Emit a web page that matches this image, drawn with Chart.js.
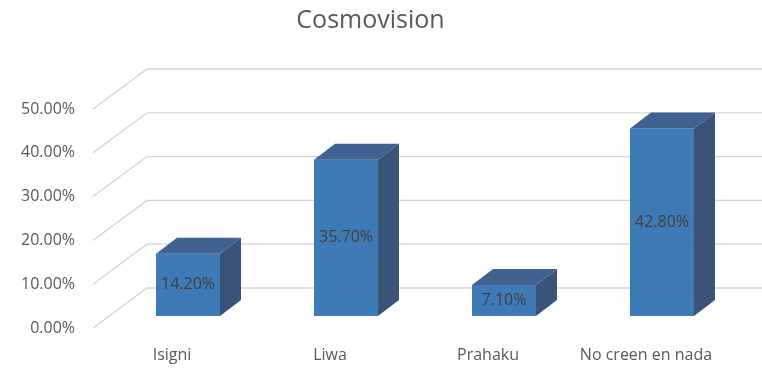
<!DOCTYPE html>
<html>
<head>
<meta charset="utf-8">
<script src="https://cdn.jsdelivr.net/npm/chart.js@4/dist/chart.umd.min.js"></script>
<style>
html,body{margin:0;padding:0;background:#fff;}
canvas{display:block;}
</style>
</head>
<body>
<canvas id="c" width="762" height="375"></canvas>
<script>
const categories = ['Isigni', 'Liwa', 'Prahaku', 'No creen en nada'];
const values = [14.2, 35.7, 7.1, 42.8];
const yTicks = [0, 10, 20, 30, 40, 50];
const chartTitle = 'Cosmovision';

const FONT = '"Open Sans", sans-serif';
const FRONT = '#3d7ab6';
const TOP = '#3f6290';
const SIDE = '#3b5279';
const GRID = '#d3d3d3';

const depth3d = {
  id: 'depth3d',
  beforeDatasetsDraw(chart) {
    const ctx = chart.ctx, y = chart.scales.y, area = chart.chartArea;
    ctx.save();
    ctx.strokeStyle = GRID;
    ctx.lineWidth = 1.3;
    yTicks.forEach(v => {
      const py = y.getPixelForValue(v);
      ctx.beginPath();
      ctx.moveTo(area.left - 16, py + 12);
      ctx.lineTo(area.left + 38, py - 28);
      ctx.lineTo(chart.width, py - 28);
      ctx.stroke();
    });
    ctx.restore();
  },
  afterDatasetsDraw(chart) {
    const ctx = chart.ctx;
    const meta = chart.getDatasetMeta(0);
    const dx = 21, dy = -16;
    ctx.save();
    meta.data.forEach((bar, i) => {
      const p = bar.getProps(['x', 'y', 'base', 'width'], true);
      const l = p.x - p.width / 2, r = p.x + p.width / 2, t = p.y, b = p.base;
      ctx.fillStyle = TOP;
      ctx.beginPath();
      ctx.moveTo(l, t); ctx.lineTo(r, t); ctx.lineTo(r + dx, t + dy); ctx.lineTo(l + dx, t + dy);
      ctx.closePath(); ctx.fill();
      ctx.fillStyle = SIDE;
      ctx.beginPath();
      ctx.moveTo(r, t); ctx.lineTo(r + dx, t + dy); ctx.lineTo(r + dx, b + dy); ctx.lineTo(r, b);
      ctx.closePath(); ctx.fill();
      ctx.fillStyle = '#404040';
      ctx.font = '16px ' + FONT;
      ctx.textAlign = 'center';
      ctx.textBaseline = 'middle';
      ctx.fillText(values[i].toFixed(2) + '%', p.x, (t + b) / 2);
    });
    ctx.restore();
  }
};

new Chart(document.getElementById('c'), {
  type: 'bar',
  data: {
    labels: categories,
    datasets: [{
      data: values,
      backgroundColor: FRONT,
      borderWidth: 0,
      barPercentage: 1,
      categoryPercentage: 0.405
    }]
  },
  options: {
    responsive: false,
    animation: false,
    layout: { padding: { left: 0, right: 21, top: 0, bottom: 0 } },
    plugins: {
      legend: { display: false },
      tooltip: { enabled: false },
      title: {
        display: true,
        text: chartTitle,
        color: '#595959',
        font: { family: FONT, size: 25, weight: 'normal' },
        padding: { top: 6, bottom: 61 }
      }
    },
    scales: {
      x: {
        grid: { display: false },
        border: { display: false },
        ticks: {
          color: '#595959',
          font: { family: FONT, size: 16 },
          labelOffset: -16,
          padding: 22,
          maxRotation: 0,
          autoSkip: false
        },
        afterFit(s) { s.height = 59; }
      },
      y: {
        min: 0,
        max: 50,
        grid: { display: false },
        border: { display: false },
        afterBuildTicks(s) { s.ticks = yTicks.map(v => ({ value: v })); },
        ticks: {
          color: '#595959',
          font: { family: FONT, size: 16 },
          labelOffset: 12,
          padding: 26,
          callback: v => Number(v).toFixed(2) + '%'
        },
        afterFit(s) { s.width = 109; }
      }
    }
  },
  plugins: [depth3d]
});
</script>
</body>
</html>
